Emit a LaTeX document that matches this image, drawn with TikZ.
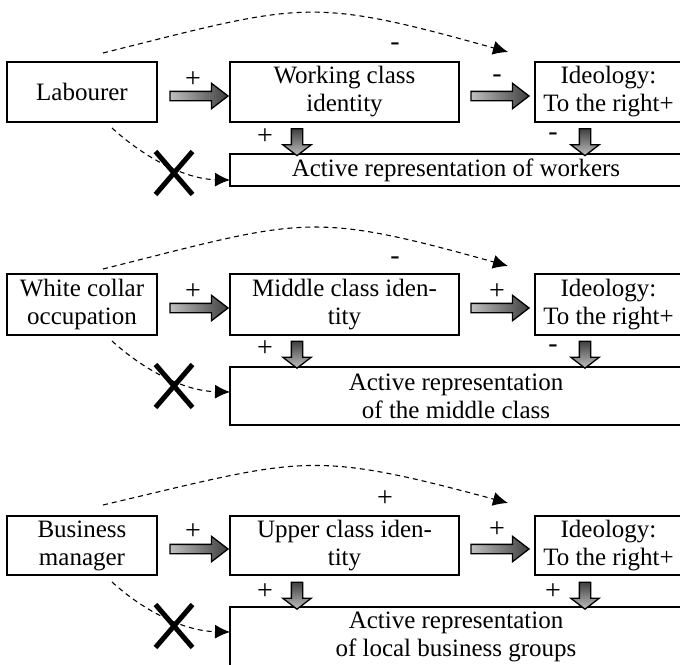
\documentclass[tikz,border=0pt]{standalone}
\usepackage{fontspec}
\setmainfont{Liberation Serif}
\usetikzlibrary{shapes.arrows,shapes.misc,arrows.meta,calc}
\begin{document}
\begin{tikzpicture}[x=1pt,y=-1pt,
  box/.style={draw,line width=1.5pt,inner sep=0pt,align=center,
    font=\fontsize{25}{28}\selectfont},
  lbl/.style={inner sep=0pt,font=\fontsize{28}{28}\selectfont},
  fatright/.style={single arrow,draw,line width=1.3pt,inner xsep=0pt,inner ysep=4pt,
    minimum height=58pt,single arrow head extend=8pt,single arrow tip angle=75,
    left color=black!25,right color=black!75},
  fatdown/.style={single arrow,draw,line width=1.3pt,inner xsep=0pt,inner ysep=5pt,
    minimum height=27pt,single arrow head extend=8.5pt,single arrow tip angle=105,
    rotate=-90,bottom color=black!25,top color=black!75},
  dcurve/.style={line width=1.1pt,dash pattern=on 5pt off 4pt,
    -{Latex[length=15pt,width=14pt]}},
  xmark/.style={cross out,draw,line width=5pt,minimum width=32pt,minimum height=38pt,inner sep=0pt}
]
\useasboundingbox (0,0) rectangle (680,664);
\clip (0,0) rectangle (680,664);

% ---------- panel 1 ----------
\node[box,minimum width=150pt,minimum height=60pt] (lab1) at (82,92) {Labourer};
\node[box,minimum width=229pt,minimum height=60pt] (wc1) at (344.5,92) {Working class\\identity};
\node[box,minimum width=147pt,minimum height=60pt] (id1) at (608.5,92) {Ideology:\\To the right+};
\node[box,minimum width=452pt,minimum height=32pt] (ac1) at (456,170) {Active representation of workers};
\node[fatright] (a11) at (196,96) {};
\node[fatright] (a12) at (497,96) {};
\node[fatdown] (d11) at (297,140) {};
\node[fatdown] (d12) at (585,140) {};
\node[lbl] (p11) at (193,80) {+};
\node[lbl] (p12) at (497,79) {-};
\node[lbl] (p13) at (265,137) {+};
\node[lbl] (p14) at (553,137) {-};
\node[lbl] (p15) at (395,47) {-};
\coordinate (s11) at (103,53);
\coordinate (e11) at (508,52);
\draw[dcurve] (s11) .. controls (303,3) and (308,-4) .. (e11);
\coordinate (s12) at (112,128);
\coordinate (e12) at (230,180);
\draw[dcurve] (s12) .. controls (145,158) and (185,179) .. (e12);
\node[xmark] (x1) at (174,173) {};

% ---------- panel 2 ----------
\node[box,minimum width=150pt,minimum height=61pt] (lab2) at (82,304.5) {White collar\\occupation};
\node[box,minimum width=229pt,minimum height=61pt] (wc2) at (344.5,304.5) {Middle class iden-\\tity};
\node[box,minimum width=147pt,minimum height=61pt] (id2) at (608.5,304.5) {Ideology:\\To the right+};
\node[box,minimum width=452pt,minimum height=58pt] (ac2) at (456,396) {Active representation\\of the middle class};
\node[fatright] (a21) at (196,308) {};
\node[fatright] (a22) at (497,308) {};
\node[fatdown] (d21) at (297,352.5) {};
\node[fatdown] (d22) at (585,352.5) {};
\node[lbl] (p21) at (193,292) {+};
\node[lbl] (p22) at (497,292) {+};
\node[lbl] (p23) at (265,349) {+};
\node[lbl] (p24) at (553,349) {-};
\node[lbl] (p25) at (395,261) {-};
\coordinate (s21) at (103,269);
\coordinate (e21) at (508,266);
\draw[dcurve] (s21) .. controls (303,219) and (308,210) .. (e21);
\coordinate (s22) at (112,341);
\coordinate (e22) at (230,392);
\draw[dcurve] (s22) .. controls (145,371) and (185,391) .. (e22);
\node[xmark] (x2) at (174,386) {};

% ---------- panel 3 ----------
\node[box,minimum width=150pt,minimum height=59pt] (lab3) at (82,545.5) {Business\\manager};
\node[box,minimum width=229pt,minimum height=59pt] (wc3) at (344.5,545.5) {Upper class iden-\\tity};
\node[box,minimum width=147pt,minimum height=59pt] (id3) at (608.5,545.5) {Ideology:\\To the right+};
\node[box,minimum width=452pt,minimum height=60pt] (ac3) at (456,637) {Active representation\\of local business groups};
\node[fatright] (a31) at (196,549) {};
\node[fatright] (a32) at (497,549) {};
\node[fatdown] (d31) at (297,593.5) {};
\node[fatdown] (d32) at (585,593.5) {};
\node[lbl] (p31) at (193,532) {+};
\node[lbl] (p32) at (497,530) {+};
\node[lbl] (p33) at (265,592) {+};
\node[lbl] (p34) at (553,592) {+};
\node[lbl] (p35) at (385,499) {+};
\coordinate (s31) at (103,505);
\coordinate (e31) at (508,503);
\draw[dcurve] (s31) .. controls (303,458) and (308,449) .. (e31);
\coordinate (s32) at (112,582);
\coordinate (e32) at (230,632);
\draw[dcurve] (s32) .. controls (145,612) and (185,631) .. (e32);
\node[xmark] (x3) at (174,626) {};
\end{tikzpicture}
\end{document}
